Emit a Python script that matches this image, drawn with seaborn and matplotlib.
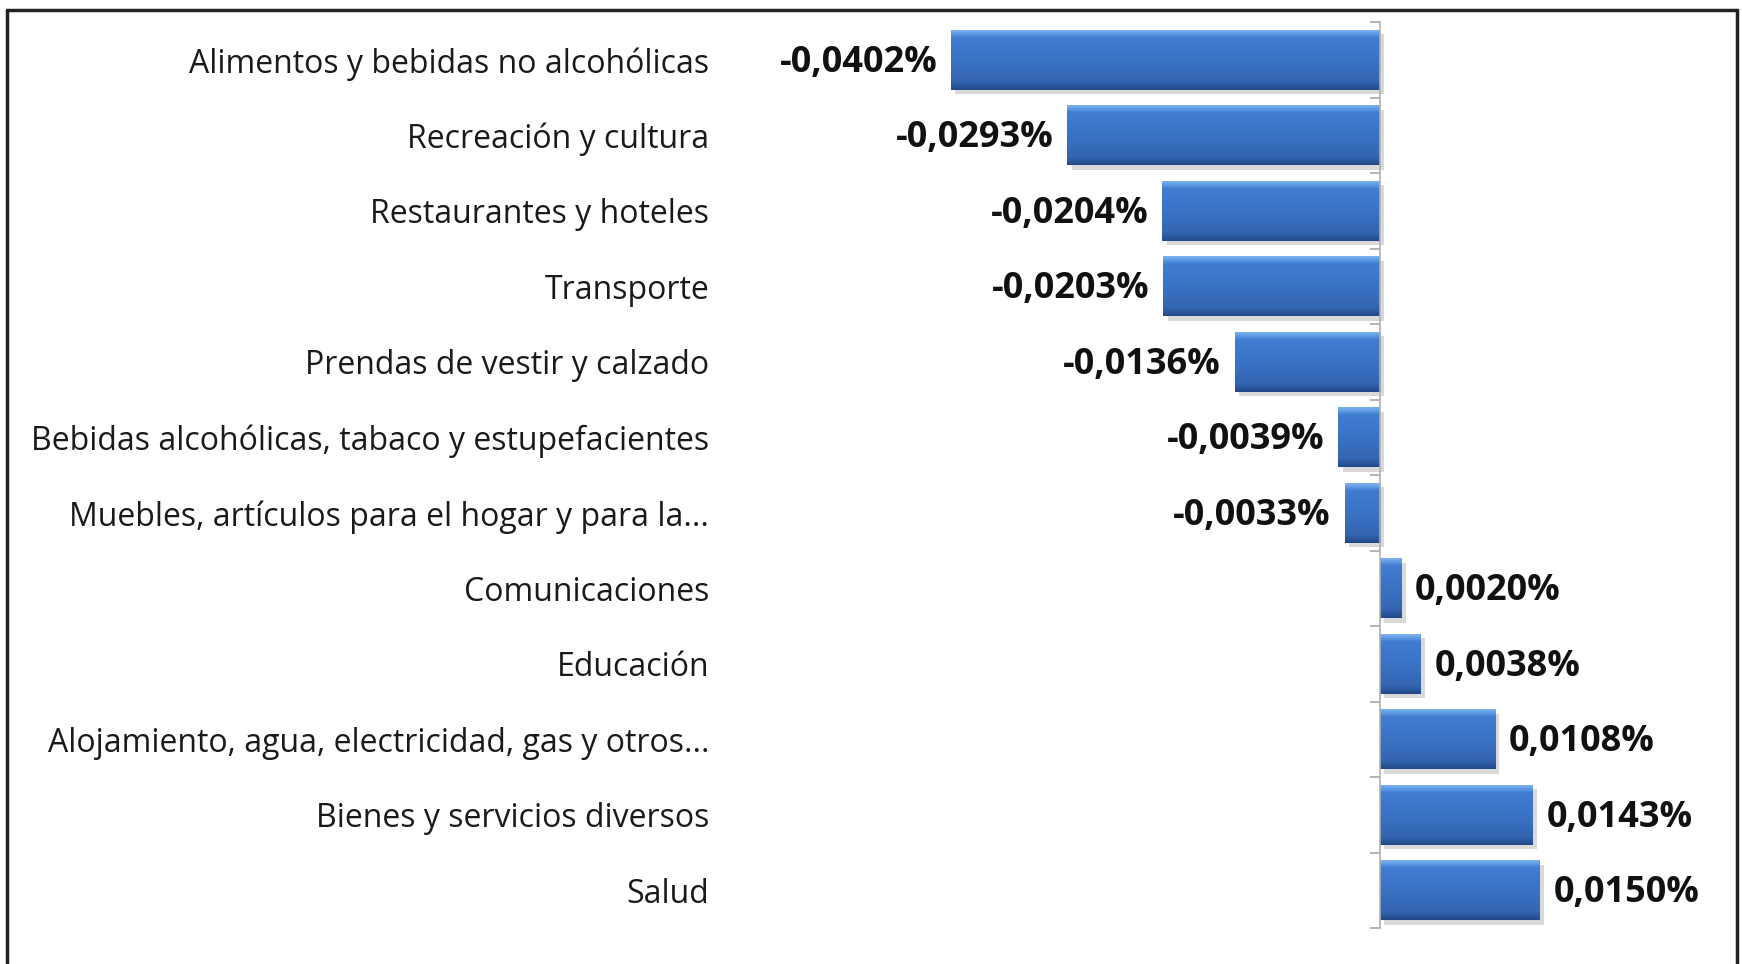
import matplotlib
matplotlib.use("Agg")
import matplotlib.pyplot as plt
import seaborn as sns
import numpy as np
import pandas as pd
from matplotlib.lines import Line2D
from matplotlib.ticker import FixedLocator

categories = [
    "Alimentos y bebidas no alcohólicas",
    "Recreación y cultura",
    "Restaurantes y hoteles",
    "Transporte",
    "Prendas de vestir y calzado",
    "Bebidas alcohólicas, tabaco y estupefacientes",
    "Muebles, artículos para el hogar y para la...",
    "Comunicaciones",
    "Educación",
    "Alojamiento, agua, electricidad, gas y otros...",
    "Bienes y servicios diversos",
    "Salud",
]
values = [-0.0402, -0.0293, -0.0204, -0.0203, -0.0136, -0.0039, -0.0033,
          0.0020, 0.0038, 0.0108, 0.0143, 0.0150]

df = pd.DataFrame({"categoria": categories, "valor": values})

sns.set_theme(style="white")
plt.rcParams["font.family"] = ["Open Sans", "DejaVu Sans"]

W, H = 1742, 964
fig = plt.figure(figsize=(W / 100, H / 100), dpi=100)
left_px, right_px = 740, 1700
top_px, bot_px = 22, 928
ax = fig.add_axes([left_px / W, 1 - bot_px / H, (right_px - left_px) / W, (bot_px - top_px) / H])

base = "#3a70c0"
sns.barplot(data=df, x="valor", y="categoria", orient="h", color=base,
            width=0.8, ax=ax, saturation=1, edgecolor="none")

ax.set_xlim(-0.06, 0.03)
ax.set_ylim(len(categories) - 0.5, -0.5)

# bevel-like gradient on bars
grad = np.array([0.0, 0.06, 0.14, 0.5, 0.86, 0.95, 1.0])
cols_top = np.array([
    [0.52, 0.72, 0.94],
    [0.40, 0.63, 0.91],
    [0.25, 0.49, 0.82],
    [0.23, 0.45, 0.77],
    [0.20, 0.40, 0.70],
    [0.16, 0.33, 0.60],
    [0.13, 0.28, 0.53],
])
yy = np.linspace(0, 1, 100)
img = np.stack([np.interp(yy, grad, cols_top[:, c]) for c in range(3)], axis=-1)[:, None, :]
for p in ax.patches:
    x0, y0 = p.get_x(), p.get_y()
    w, h = p.get_width(), p.get_height()
    sh = plt.Rectangle((x0 + 0.0004, y0 + 0.06), w, h, facecolor="#000000", alpha=0.15,
                       edgecolor="none", zorder=p.get_zorder() - 0.5)
    ax.add_patch(sh)
    im = ax.imshow(img, extent=(x0, x0 + w, y0 + h, y0), aspect="auto",
                   zorder=p.get_zorder() + 0.1, interpolation="bilinear")
    im.set_clip_path(p)
ax.set_xlim(-0.06, 0.03)
ax.set_ylim(len(categories) - 0.5, -0.5)

# value labels
for i, v in enumerate(values):
    txt = f"{v:.4f}".replace(".", ",") + "%"
    if v < 0:
        ax.annotate(txt, (v, i), xytext=(-10, -2), textcoords="offset points",
                    ha="right", va="center", fontsize=26, fontweight="bold", color="#111111")
    else:
        ax.annotate(txt, (v, i), xytext=(10, -2), textcoords="offset points",
                    ha="left", va="center", fontsize=26, fontweight="bold", color="#111111")

# axes styling
for s in ["top", "right", "bottom"]:
    ax.spines[s].set_visible(False)
ax.spines["left"].set_position(("data", 0))
ax.spines["left"].set_color("#b0b0b0")
ax.spines["left"].set_linewidth(1.2)
ax.set_xticks([])
ax.set_xlabel("")
ax.set_ylabel("")
ax.yaxis.set_minor_locator(FixedLocator(np.arange(-0.5, len(categories), 1.0)))
ax.tick_params(axis="y", which="major", length=0, pad=483, labelsize=23, labelcolor="#1a1a1a")
ax.tick_params(axis="y", which="minor", length=7, width=1.2, color="#a8a8a8", left=True)
for lab in ax.get_yticklabels():
    lab.set_horizontalalignment("right")

# outer frame (left, top, right)
fig.add_artist(Line2D([7 / W, 7 / W], [0, 1 - 10 / H], transform=fig.transFigure, color="#222222", lw=2.5))
fig.add_artist(Line2D([7 / W, 1737 / W], [1 - 10 / H, 1 - 10 / H], transform=fig.transFigure, color="#222222", lw=2.5))
fig.add_artist(Line2D([1737 / W, 1737 / W], [0, 1 - 10 / H], transform=fig.transFigure, color="#222222", lw=2.5))

fig.savefig("out.png", dpi=100, facecolor="white")
